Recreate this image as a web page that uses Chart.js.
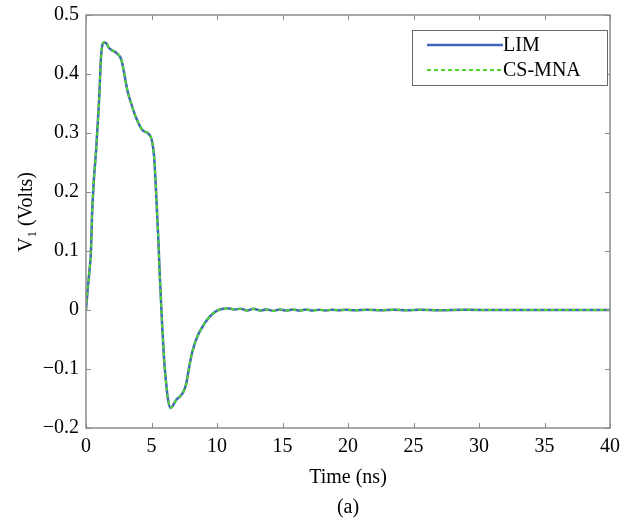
<!DOCTYPE html>
<html><head><meta charset="utf-8">
<script src="https://cdn.jsdelivr.net/npm/chart.js@4.4.0/dist/chart.umd.min.js"></script>
<style>html,body{margin:0;padding:0;background:#fff}#wrap{width:632px;height:519px}</style>
</head><body><div id="wrap"><canvas id="c" width="632" height="519"></canvas></div>
<script>
// ---- data ----
const timeNs = [0, 0.15, 0.3, 0.38, 0.46, 0.6, 0.77, 1.0, 1.15, 1.38, 1.55, 1.76, 2.0, 2.3, 2.7, 2.9, 3.15, 3.45, 3.8, 4.3, 4.7, 4.95,
  5.05, 5.2, 5.35, 5.5, 5.65, 5.8, 5.95, 6.1, 6.25, 6.45, 6.6, 6.9, 7.2, 7.45, 7.65, 7.85, 8.1, 8.5, 8.9, 9.3, 9.7, 10.1, 10.5,
  10.8, 11.3, 11.8, 12.3, 12.8, 13.3, 13.8, 14.3, 14.8, 15.3, 15.8, 16.3, 16.8, 17.3, 17.8, 18.3, 18.8, 19.3, 19.8,
  20.5, 21.5, 22.5, 23.5, 24.5, 25.5, 27, 29, 31, 34, 37, 40];
const limV = [0, 0.04, 0.075, 0.1, 0.16, 0.22, 0.27, 0.356, 0.43, 0.454, 0.452, 0.444, 0.44, 0.436, 0.424, 0.403, 0.373, 0.35, 0.327, 0.305, 0.3, 0.293,
  0.285, 0.26, 0.2, 0.13, 0.05, -0.02, -0.08, -0.12, -0.15, -0.166, -0.163, -0.152, -0.146, -0.138, -0.125, -0.1, -0.072, -0.045, -0.028, -0.015, -0.006, 0.0, 0.002,
  0.003, 0.001, 0.002, -0.001, 0.002, -0.001, 0.001, -0.0015, 0.001, -0.001, 0.001, -0.001, 0.001, -0.001, 0.0005, -0.001, 0.0005, -0.0005, 0.0005,
  -0.0005, 0.0005, -0.0005, 0.0005, -0.0005, 0.0003, -0.0003, 0.0003, 0, 0, 0, 0];
const csmnaV = [0, 0.04, 0.075, 0.1, 0.16, 0.22, 0.27, 0.356, 0.43, 0.454, 0.452, 0.444, 0.44, 0.436, 0.424, 0.403, 0.373, 0.35, 0.327, 0.305, 0.3, 0.293,
  0.285, 0.26, 0.2, 0.13, 0.05, -0.02, -0.08, -0.12, -0.15, -0.166, -0.163, -0.152, -0.146, -0.138, -0.125, -0.1, -0.072, -0.045, -0.028, -0.015, -0.006, 0.0, 0.002,
  0.003, 0.001, 0.002, -0.001, 0.002, -0.001, 0.001, -0.0015, 0.001, -0.001, 0.001, -0.001, 0.001, -0.001, 0.0005, -0.001, 0.0005, -0.0005, 0.0005,
  -0.0005, 0.0005, -0.0005, 0.0005, -0.0005, 0.0003, -0.0003, 0.0003, 0, 0, 0, 0];
const seriesNames = ['LIM', 'CS-MNA'];
const xTickValues = [0, 5, 10, 15, 20, 25, 30, 35, 40];
const xTickLabels = ['0', '5', '10', '15', '20', '25', '30', '35', '40'];
const yTickValues = [-0.2, -0.1, 0, 0.1, 0.2, 0.3, 0.4, 0.5];
const yTickLabels = ['\u22120.2', '\u22120.1', '0', '0.1', '0.2', '0.3', '0.4', '0.5'];
const xTitle = 'Time (ns)';
const caption = '(a)';
const yTitleMain = 'V';
const yTitleSub = '1';
const yTitleRest = ' (Volts)';

// ---- styling ----
const FONT = '"Liberation Serif", "Times New Roman", serif';
const AXIS_COLOR = '#8a8a8a';
const BLUE = '#4163b8';
const GREEN = '#4fd62a';

const framePlugin = {
  id: 'frame',
  afterDatasetsDraw(chart) {
    const ctx = chart.ctx;
    const {left, right, top, bottom} = chart.chartArea;
    const xs = chart.scales.x, ys = chart.scales.y;
    ctx.save();
    ctx.strokeStyle = AXIS_COLOR;
    ctx.lineWidth = 1.5;
    ctx.beginPath();
    ctx.rect(left, top, right - left, bottom - top);
    ctx.stroke();
    ctx.lineWidth = 1;
    ctx.beginPath();
    const tl = 5;
    xTickValues.forEach(v => {
      const p = Math.round(xs.getPixelForValue(v)) + 0.5;
      ctx.moveTo(p, bottom); ctx.lineTo(p, bottom - tl);
      ctx.moveTo(p, top); ctx.lineTo(p, top + tl);
    });
    yTickValues.forEach(v => {
      const p = Math.round(ys.getPixelForValue(v)) + 0.5;
      ctx.moveTo(left, p); ctx.lineTo(left + tl, p);
      ctx.moveTo(right, p); ctx.lineTo(right - tl, p);
    });
    ctx.stroke();
    ctx.restore();
  },
  afterDraw(chart) {
    const ctx = chart.ctx;
    const {right, top} = chart.chartArea;
    // legend box
    const bw = 195, bh = 55;
    const bx = right - 3 - bw, by = top + 15;
    ctx.save();
    ctx.fillStyle = '#fff';
    ctx.fillRect(bx, by, bw, bh);
    ctx.strokeStyle = '#6a6a6a';
    ctx.lineWidth = 1;
    ctx.strokeRect(bx + 0.5, by + 0.5, bw, bh);
    const dsets = chart.data.datasets;
    ctx.font = '20px ' + FONT;
    ctx.textBaseline = 'middle';
    ctx.textAlign = 'left';
    seriesNames.forEach((name, i) => {
      const ds = dsets.find(d => d.label === name);
      const y = by + 15 + i * 25;
      ctx.beginPath();
      ctx.strokeStyle = ds.borderColor;
      ctx.lineWidth = ds.borderWidth;
      ctx.setLineDash(ds.borderDash || []);
      ctx.moveTo(bx + 15, y); ctx.lineTo(bx + 91, y);
      ctx.stroke();
      ctx.setLineDash([]);
      ctx.fillStyle = '#000';
      ctx.fillText(name, bx + 91, y + 1);
    });
    // y axis title with subscript
    const cx = 25, cy = 212;
    ctx.translate(cx, cy);
    ctx.rotate(-Math.PI / 2);
    ctx.fillStyle = '#000';
    ctx.textBaseline = 'alphabetic';
    const fMain = '20px ' + FONT, fSub = '13px ' + FONT;
    ctx.font = fMain; const w1 = ctx.measureText(yTitleMain).width;
    const w3 = ctx.measureText(yTitleRest).width;
    ctx.font = fSub; const w2 = ctx.measureText(yTitleSub).width;
    const total = w1 + w2 + w3;
    let x0 = -total / 2;
    const base = 7;
    ctx.font = fMain; ctx.fillText(yTitleMain, x0, base); x0 += w1;
    ctx.font = fSub; ctx.fillText(yTitleSub, x0, base + 4); x0 += w2;
    ctx.font = fMain; ctx.fillText(yTitleRest, x0, base);
    ctx.restore();
  }
};

const toPts = arr => timeNs.map((t, i) => ({x: t, y: arr[i]}));

new Chart(document.getElementById('c'), {
  type: 'line',
  data: {
    datasets: [
      {label: seriesNames[0], data: toPts(limV), borderColor: BLUE, borderWidth: 2.5, pointRadius: 0, cubicInterpolationMode: 'monotone', order: 2},
      {label: seriesNames[1], data: toPts(csmnaV), borderColor: GREEN, borderWidth: 2, borderDash: [4, 3], pointRadius: 0, cubicInterpolationMode: 'monotone', order: 1}
    ]
  },
  options: {
    responsive: false,
    devicePixelRatio: 1,
    animation: false,
    layout: {padding: {top: 15, right: 22, left: 0, bottom: 0}},
    plugins: {legend: {display: false}, tooltip: {enabled: false}},
    scales: {
      x: {
        type: 'linear', min: 0, max: 40,
        afterBuildTicks: s => { s.ticks = xTickValues.map(v => ({value: v})); },
        afterFit: s => { s.height = 91; s.paddingLeft = 0; s.paddingRight = 0; },
        grid: {display: false, drawTicks: false},
        border: {display: false},
        ticks: {color: '#000', font: {family: FONT, size: 20}, padding: 7, maxRotation: 0, autoSkip: false,
          callback: (v, i) => xTickLabels[i]},
        title: {display: true, text: [xTitle, caption], color: '#000', font: {family: FONT, size: 20, lineHeight: 1.5}, padding: {top: 0, bottom: -4}}
      },
      y: {
        type: 'linear', min: -0.2, max: 0.5,
        afterBuildTicks: s => { s.ticks = yTickValues.map(v => ({value: v})); },
        afterFit: s => { s.width = 86; s.paddingTop = 0; s.paddingBottom = 0; },
        grid: {display: false, drawTicks: false},
        border: {display: false},
        ticks: {color: '#000', font: {family: FONT, size: 20}, padding: 7, autoSkip: false,
          callback: (v, i) => yTickLabels[i]}
      }
    }
  },
  plugins: [framePlugin]
});
</script></body></html>
